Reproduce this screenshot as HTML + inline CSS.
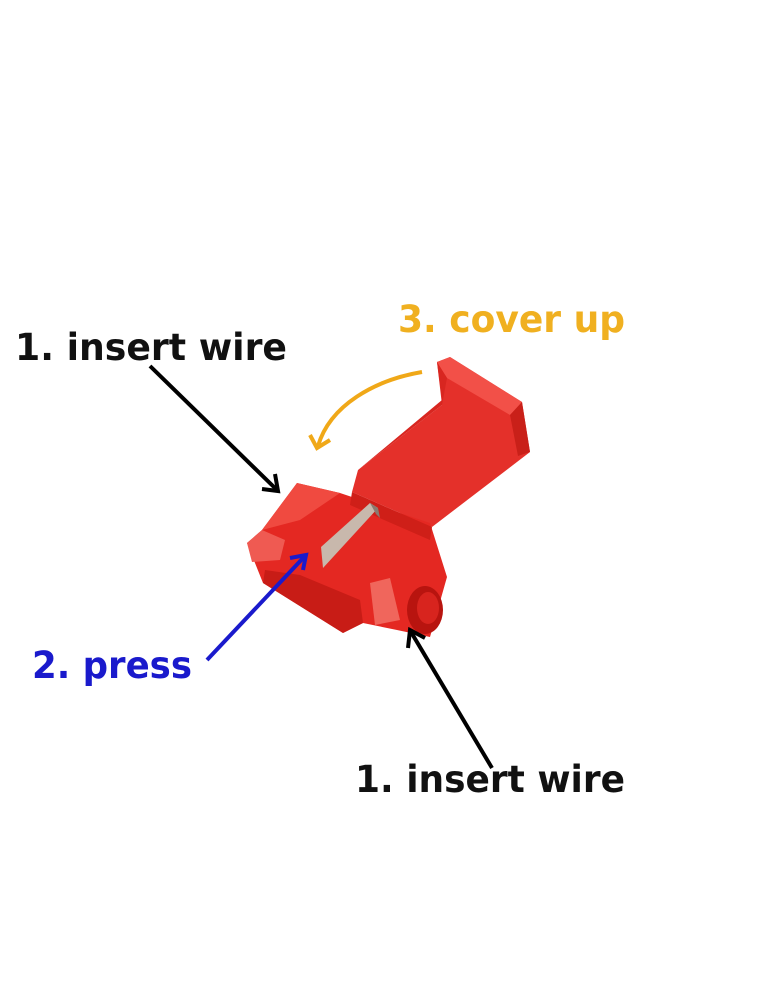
<!DOCTYPE html>
<html><head><meta charset="utf-8"><style>
html,body{margin:0;padding:0;background:#fff;}
svg{display:block;}
text{font-family:"DejaVu Sans","Liberation Sans",sans-serif;font-weight:bold;}
</style></head><body>
<svg width="771" height="1000" viewBox="0 0 771 1000" xmlns="http://www.w3.org/2000/svg">
<rect width="771" height="1000" fill="#fff"/>
<!-- lid -->
<polygon points="437,362 450,357 522,402 530,452 432,527 352,492 358,470 442,405" fill="#e4302a"/>
<polygon points="437,362 450,357 522,402 510,415 447,378" fill="#f25048"/>
<polygon points="510,415 522,402 530,452 518,456" fill="#c92019"/>
<polygon points="358,470 442,405 447,378 437,362 442,400" fill="#d82620"/>
<!-- body -->
<polygon points="247,543 262,530 297,483 340,493 430,523 447,577 430,637 397,630 363,623 343,633 263,583" fill="#e42822"/>
<polygon points="262,530 297,483 340,493 300,520" fill="#f04a40"/>
<polygon points="247,543 262,530 285,540 280,560 252,562" fill="#ef5a52"/>
<polygon points="263,583 343,633 363,623 360,600 300,575 265,570" fill="#c81c16"/>
<polygon points="370,583 390,578 400,620 375,625" fill="#f0665c"/>
<ellipse cx="425" cy="610" rx="18" ry="24" fill="#b8140f"/>
<ellipse cx="428" cy="608" rx="11" ry="16" fill="#d8241e"/>
<polygon points="352,492 432,527 430,540 350,505" fill="#cf1f18"/>
<!-- blade -->
<polygon points="321,547 370,503 378,508 323,568" fill="#c8b8ac"/>
<polygon points="370,503 378,508 380,518 376,514" fill="#8a7a70"/>
<!-- arrows -->
<line x1="150" y1="366" x2="277" y2="490" stroke="#000" stroke-width="4"/>
<path d="M262,489 L278,491 L275,474" fill="none" stroke="#000" stroke-width="4"/>
<line x1="207" y1="660" x2="305" y2="556" stroke="#1a1acc" stroke-width="4"/>
<path d="M290,558 L306,555 L303,570" fill="none" stroke="#1a1acc" stroke-width="4"/>
<line x1="492" y1="768" x2="411" y2="632" stroke="#000" stroke-width="4"/>
<path d="M408,648 L410,630 L425,638" fill="none" stroke="#000" stroke-width="4"/>
<path d="M422,372 C375,380 330,405 318,446" fill="none" stroke="#f0a818" stroke-width="4"/>
<path d="M310,435 L317,448 L330,440" fill="none" stroke="#f0a818" stroke-width="4"/>
<!-- labels -->
<text x="15" y="360" font-size="37" fill="#111" textLength="272" lengthAdjust="spacingAndGlyphs">1. insert wire</text>
<text x="398" y="332" font-size="37" fill="#f0b020" textLength="227" lengthAdjust="spacingAndGlyphs">3. cover up</text>
<text x="32" y="678" font-size="37" fill="#1a1acc" textLength="160" lengthAdjust="spacingAndGlyphs">2. press</text>
<text x="355" y="792" font-size="37" fill="#111" textLength="270" lengthAdjust="spacingAndGlyphs">1. insert wire</text>
</svg>
</body></html>
